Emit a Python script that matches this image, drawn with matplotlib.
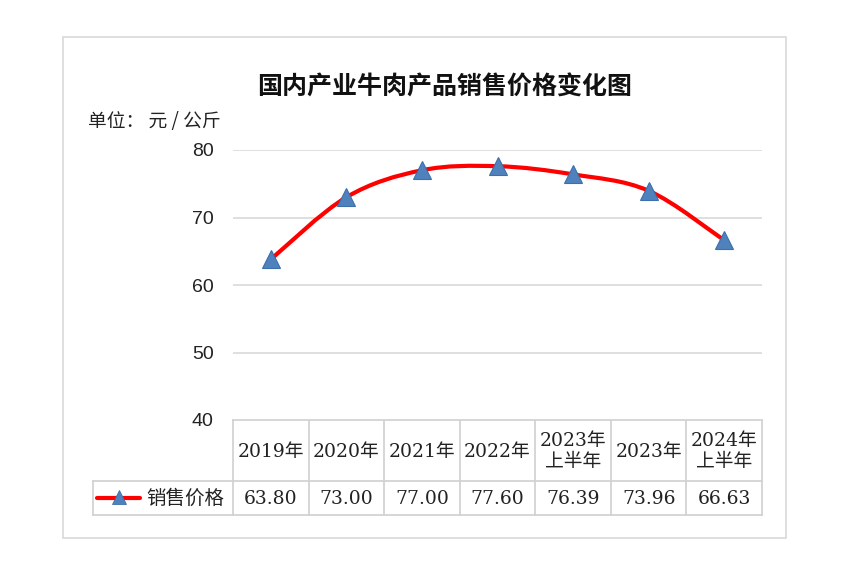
import matplotlib
matplotlib.use("Agg")
import matplotlib.pyplot as plt
from matplotlib.path import Path
from matplotlib.patches import PathPatch, Rectangle
import numpy as np

plt.rcParams['font.family'] = ['Noto Sans CJK SC', 'DejaVu Sans']

title = "国内产业牛肉产品销售价格变化图"
unit_label = "单位： 元 / 公斤"
series_name = "销售价格"
categories = ["2019年", "2020年", "2021年", "2022年", "2023年\n上半年", "2023年", "2024年\n上半年"]
values = [63.80, 73.00, 77.00, 77.60, 76.39, 73.96, 66.63]
value_labels = ["63.80", "73.00", "77.00", "77.60", "76.39", "73.96", "66.63"]
yticks = [40, 50, 60, 70, 80]

W, H = 848, 580
fig = plt.figure(figsize=(W / 100, H / 100), dpi=100)
fig.patch.set_facecolor("white")

# overlay in pixel coordinates
ov = fig.add_axes([0, 0, 1, 1])
ov.set_xlim(0, W)
ov.set_ylim(H, 0)
ov.axis("off")

grid_c = "#d9d9d9"
ov.add_patch(Rectangle((63, 37), 723, 501, fill=False, edgecolor=grid_c, lw=1.2))

L, R, T, B = 233, 762, 150, 420
ax = fig.add_axes([L / W, 1 - B / H, (R - L) / W, (B - T) / H])
ax.set_xlim(0, len(categories))
ax.set_ylim(40, 80)
ax.set_yticks(yticks)
ax.set_xticks([])
for s in ax.spines.values():
    s.set_visible(False)
ax.grid(axis="y", color=grid_c, lw=1.2)
ax.tick_params(axis="y", length=0, pad=14)
for lab in ax.get_yticklabels():
    lab.set_fontfamily("Liberation Sans")
    lab.set_fontsize(14)
    lab.set_color("#222222")
ax.set_facecolor("none")

# smooth line (Bezier through points, Excel-like)
xs = np.arange(len(values)) + 0.5
pts = np.column_stack([xs, values])
n = len(pts)
verts = [tuple(pts[0])]
codes = [Path.MOVETO]
for i in range(n - 1):
    p_prev = pts[max(i - 1, 0)]
    p0 = pts[i]
    p1 = pts[i + 1]
    p_next = pts[min(i + 2, n - 1)]
    c1 = p0 + (p1 - p_prev) / 6.0
    c2 = p1 - (p_next - p0) / 6.0
    verts += [tuple(c1), tuple(c2), tuple(p1)]
    codes += [Path.CURVE4] * 3
ax.add_patch(PathPatch(Path(verts, codes), facecolor="none", edgecolor="#ff0000",
                       lw=3.0, capstyle="round", joinstyle="round", zorder=3))
ax.plot(xs, values, linestyle="none", marker="^", markersize=13,
        markerfacecolor="#4f81bd", markeredgecolor="#3d6fab", markeredgewidth=0.8, zorder=4)

# title & unit
ov.text(445, 88, title, ha="center", va="center", fontsize=18, fontweight="bold", color="#111111")
ov.text(88, 122, unit_label, ha="left", va="center", fontsize=13.5, color="#222222")

# data table
fig.canvas.draw()
col_edges = [ov.transData.inverted().transform(ax.transData.transform((i, 40)))[0]
             for i in range(len(categories) + 1)]
hdr_top, hdr_bot, row_bot = B, 481, 515
leg_left = 93
lc = "#d0d0d0"
ov.plot([col_edges[0], col_edges[-1]], [hdr_top, hdr_top], color=lc, lw=1.2)
ov.plot([leg_left, col_edges[-1]], [hdr_bot, hdr_bot], color=lc, lw=1.2)
ov.plot([leg_left, col_edges[-1]], [row_bot, row_bot], color=lc, lw=1.2)
ov.plot([leg_left, leg_left], [hdr_bot, row_bot], color=lc, lw=1.2)
for xe in col_edges:
    ov.plot([xe, xe], [hdr_top, row_bot], color=lc, lw=1.2)

tfam = ["DejaVu Serif", "Noto Sans CJK SC"]
for i, (cat, vl) in enumerate(zip(categories, value_labels)):
    cx = (col_edges[i] + col_edges[i + 1]) / 2
    ov.text(cx, (hdr_top + hdr_bot) / 2 + 1, cat, ha="center", va="center",
            fontsize=13.5, family=tfam, color="#222222", linespacing=1.2)
    ov.text(cx, (hdr_bot + row_bot) / 2 + 1, vl, ha="center", va="center",
            fontsize=13.5, family=tfam, color="#222222")

# legend key
ly = (hdr_bot + row_bot) / 2
ov.plot([97, 140], [ly, ly], color="#ff0000", lw=3.0, solid_capstyle="round")
ov.plot([118.5], [ly - 1], marker="^", markersize=10, markerfacecolor="#4f81bd",
        markeredgecolor="#3d6fab", markeredgewidth=0.6, linestyle="none")
ov.text(146, ly, series_name, ha="left", va="center", fontsize=14, color="#222222")

fig.savefig("out.png", dpi=100, facecolor="white")
